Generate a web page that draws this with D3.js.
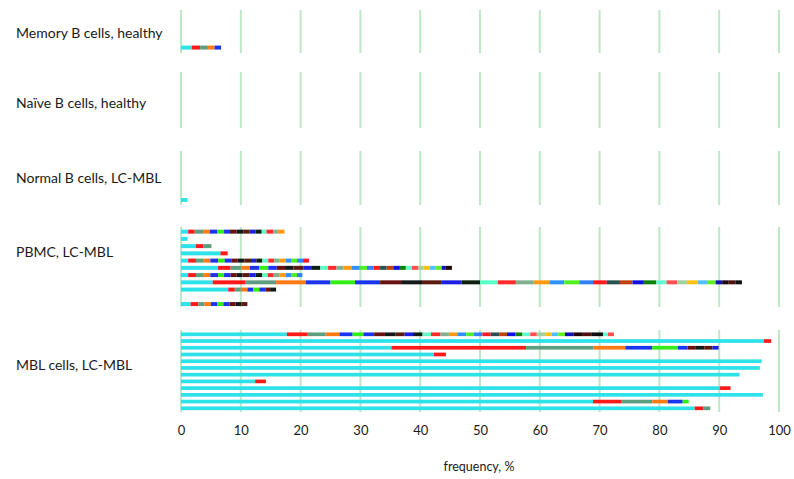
<!DOCTYPE html>
<html lang="en">
<head>
<meta charset="UTF-8">
<title>clone frequency</title>
<script src="https://cdn.jsdelivr.net/npm/d3@7/dist/d3.min.js"></script>
<style>
    body { margin: 0; background: #fff; }
    text { font-family: Lato, "Open Sans", sans-serif; fill: #1a1a1a; }
    .grid line { stroke: #bee8c5; stroke-width: 2px; }
    .axis text { font-size: 13px; font-family: Lato, sans-serif; }
    .axis .domain, .axis line { display: none; }
</style>
</head>
<body>
<div id="diagram"></div>
<script>
// x axis ticks
var ticks = [0, 10, 20, 30, 40, 50, 60, 70, 80, 90, 100];

var groupNames = ["Memory B cells, healthy", "Na\u00efve B cells, healthy", "Normal B cells, LC-MBL",
                  "PBMC, LC-MBL", "MBL cells, LC-MBL"];

// colour used for the n-th clone in a sample
var palette = ["#2de2e8", "#ff1a1a", "#5e9e80", "#ff7a12", "#1a35f0", "#33ee14", "#1a35f0", "#6a1010",
               "#141a1a", "#5a1a10", "#1a20e0", "#102010", "#5affc8", "#ff2a2a", "#80b090", "#ff9a10",
               "#3090ff", "#50f020", "#3080ff", "#ff1a20", "#2a5050", "#c04010", "#1010e0", "#10800a",
               "#60ffd0", "#ff5050", "#a0d0a0", "#ffc010", "#50c0ff", "#60f020", "#1010c0", "#200808",
               "#501010", "#101010", "#60ffd0", "#ff5050"];

// clone frequencies (%) per sample, one array per row
var memoryHealthy = [[], [], [], [], [], [1.8, 1.4, 1.3, 1.1, 1.1]];
var naiveHealthy = [[], [], [], [], [], [], [], []];
var normalLCMBL = [[], [], [], [], [], [], [1.1]];
var pbmcLCMBL = [
    [1.2, 1.1, 1.4, 1.1, 1.3, 1.1, 1.0, 1.1, 1.1, 1.1, 1.0, 1.0, 0.8, 1.1, 0.8, 1.1],
    [1.1],
    [2.5, 1.2, 1.4],
    [6.6, 1.2],
    [1.2, 1.3, 1.2, 1.2, 1.3, 1.1, 1.1, 1.1, 1.1, 1.1, 0.9, 1.0, 1.0, 1.0, 0.9, 1.0, 0.9, 1.0, 1.0, 1.0],
    [6.2, 2.1, 1.8, 1.4, 1.6, 1.5, 1.4, 1.4, 1.4, 1.7, 1.4, 1.4, 1.3, 1.4, 1.2, 1.4, 1.3, 1.2, 1.1, 1.1,
     1.1, 1.1, 1.1, 1.0, 1.0, 1.1, 0.8, 1.1, 1.0, 1.0, 0.6, 1.1],
    [1.2, 1.3, 1.2, 1.2, 1.3, 1.0, 1.1, 1.0, 1.0, 1.1, 1.1, 1.1, 0.9, 1.0, 1.0, 1.0, 1.0, 0.9, 0.9],
    [5.3, 5.4, 5.2, 5.0, 4.1, 4.1, 4.2, 3.5, 3.5, 3.2, 3.4, 3.1, 3.0, 3.0, 3.0, 2.6, 2.5, 2.5, 2.3, 2.3,
     2.2, 2.1, 1.9, 2.1, 1.7, 1.8, 1.6, 1.8, 1.7, 1.3, 1.1, 1.1, 1.1, 1.1],
    [7.9, 1.1, 1.0, 1.1, 1.0, 1.0, 1.0, 0.8, 1.0],
    [],
    [1.6, 1.3, 1.0, 1.1, 1.1, 1.0, 1.0, 1.0, 1.0, 1.0]
];
var mblLCMBL = [
    [17.7, 3.5, 3.0, 2.3, 2.2, 1.8, 1.8, 1.8, 1.8, 1.5, 1.4, 1.6, 1.4, 1.6, 1.4, 1.4, 1.5, 1.3, 1.4, 1.4,
     1.4, 1.3, 1.4, 1.2, 1.3, 1.1, 1.4, 1.1, 1.1, 1.1, 1.4, 1.6, 1.5, 1.9, 0.8, 1.0],
    [97.5, 1.2],
    [35.2, 22.5, 11.3, 5.3, 4.5, 4.3, 1.6, 1.4, 1.4, 1.4, 1.0],
    [42.3, 2.0],
    [97.1],
    [96.8],
    [93.4],
    [12.4, 1.8],
    [90.1, 1.8],
    [97.3],
    [68.9, 4.8, 5.1, 2.6, 2.5, 1.0],
    [85.9, 1.5, 1.1]
];

var groupRows = [memoryHealthy, naiveHealthy, normalLCMBL, pbmcLCMBL, mblLCMBL];

// layout of each panel: gridline extent, row extent, label position
var gridTop = [10, 72, 151, 227, 330];
var gridBottom = [53, 128, 205, 307, 412];
var rowTop = [8, 72, 153.4, 228.2, 331.1];
var rowBottom = [51, 128, 203.4, 307.5, 411.5];
var labelY = [33.5, 103.5, 178.5, 252.5, 365.5];
var labelX = 16;

var width = 794, height = 479;
var svg = d3.select("#diagram").append("svg")
    .attr("width", width)
    .attr("height", height);

var x = d3.scaleLinear().domain([0, 100]).range([181, 779]);

groupRows.forEach(function (rows, g) {
    var panel = svg.append("g").attr("class", "panel");

    panel.append("g")
        .attr("class", "grid")
        .selectAll("line")
        .data(ticks)
        .enter()
        .append("line")
        .attr("x1", function (d) { return x(d); })
        .attr("x2", function (d) { return x(d); })
        .attr("y1", gridTop[g])
        .attr("y2", gridBottom[g]);

    var y = d3.scaleBand()
        .domain(d3.range(rows.length))
        .range([rowTop[g], rowBottom[g]])
        .paddingInner(0.45)
        .paddingOuter(0.2);

    var row = panel.selectAll(".row")
        .data(rows)
        .enter()
        .append("g")
        .attr("class", "row")
        .attr("transform", function (d, i) { return "translate(0," + y(i) + ")"; });

    row.selectAll("rect")
        .data(function (d) {
            var ends = Array.from(d3.cumsum(d));
            return d.map(function (v, k) {
                return {start: ends[k] - v, end: ends[k], k: k};
            });
        })
        .enter()
        .append("rect")
        .attr("x", function (d) { return x(d.start); })
        .attr("width", function (d) { return x(d.end) - x(d.start); })
        .attr("height", y.bandwidth())
        .attr("fill", function (d) { return palette[d.k % palette.length]; });

    panel.append("text")
        .attr("x", labelX)
        .attr("y", labelY[g])
        .attr("dy", "0.35em")
        .style("font-size", "14px")
        .text(groupNames[g]);
});

svg.append("g")
    .attr("class", "axis")
    .attr("transform", "translate(0,419)")
    .call(d3.axisBottom(x).tickValues(ticks).tickSize(0).tickPadding(7));

svg.append("text")
    .attr("x", 479)
    .attr("y", 467)
    .attr("dy", "0.35em")
    .attr("text-anchor", "middle")
    .style("font-size", "12.5px")
    .text("frequency, %");
</script>
</body>
</html>
